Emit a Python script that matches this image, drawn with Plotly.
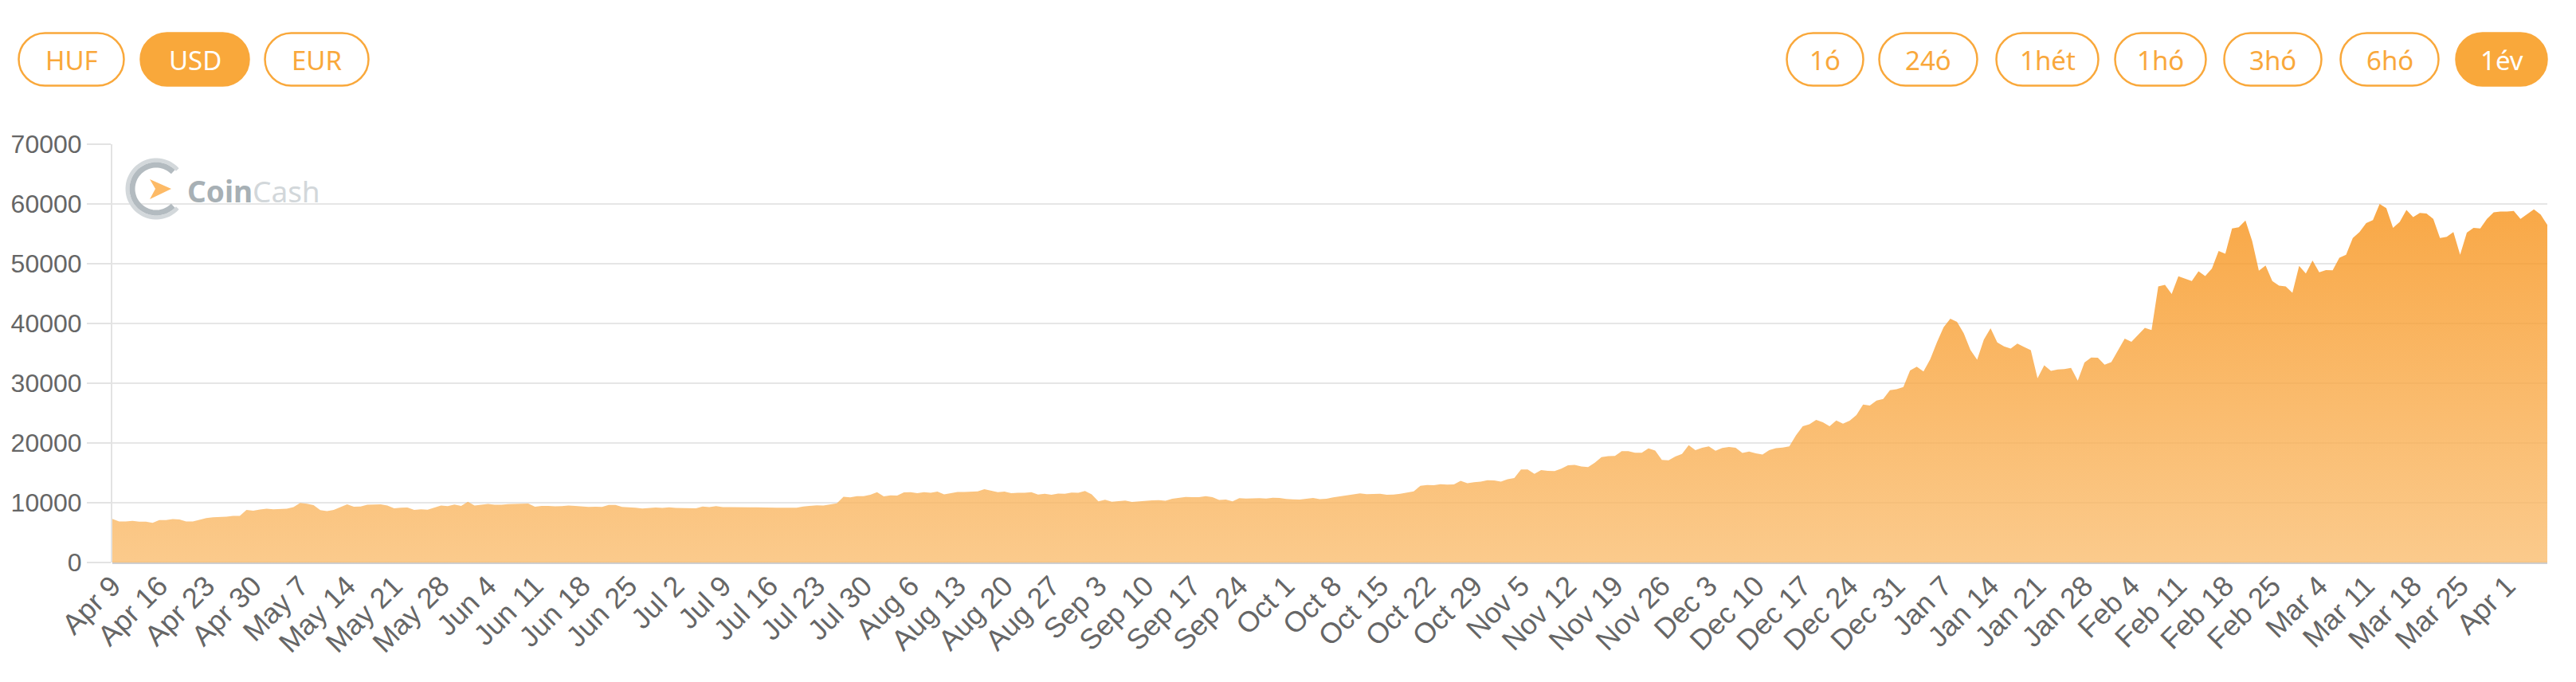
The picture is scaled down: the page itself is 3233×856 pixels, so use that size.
"""CoinCash BTC/USD one-year price chart (area with gradient fill)."""

import math

import pandas as pd
import plotly.graph_objects as go

# Daily BTC price in USD, 9 Apr 2020 - 7 Apr 2021, one list per month
APR_2020 = [7302, 6865, 6859, 6971, 6845, 6842, 6642, 7116, 7096, 7257, 7189,
            6881, 6880, 7117, 7429, 7551, 7569, 7679, 7795, 7807, 8801, 8658]
MAY_2020 = [8864, 8988, 8897, 8912, 9003, 9268, 9951, 9842, 9593, 8756, 8601,
            8804, 9269, 9733, 9328, 9377, 9670, 9727, 9729, 9523, 9081, 9182,
            9209, 8790, 8906, 8835, 9181, 9525, 9439, 9700, 9461]
JUN_2020 = [10167, 9529, 9656, 9800, 9665, 9653, 9758, 9771, 9795, 9870, 9321,
            9480, 9475, 9386, 9450, 9538, 9480, 9411, 9288, 9332, 9303, 9648,
            9629, 9313, 9264, 9162, 9045, 9143, 9190, 9137]
JUL_2020 = [9228, 9123, 9087, 9133, 9073, 9375, 9253, 9428, 9277, 9278, 9240,
            9276, 9243, 9243, 9192, 9132, 9151, 9159, 9185, 9164, 9374, 9526,
            9581, 9536, 9677, 9905, 10990, 10912, 11100, 11112, 11323]
AUG_2020 = [11759, 11053, 11246, 11205, 11747, 11779, 11601, 11754, 11675,
            11878, 11410, 11584, 11784, 11786, 11865, 11892, 12254, 11991,
            11758, 11878, 11592, 11681, 11665, 11774, 11366, 11488, 11324,
            11542, 11507, 11711, 11680]
SEP_2020 = [11970, 11415, 10245, 10512, 10169, 10281, 10370, 10131, 10242,
            10363, 10400, 10442, 10323, 10680, 10796, 10974, 10948, 10944,
            11094, 10938, 10462, 10538, 10246, 10760, 10692, 10750, 10775,
            10709, 10844, 10784]
OCT_2020 = [10619, 10575, 10549, 10669, 10793, 10604, 10668, 10915, 11064,
            11296, 11384, 11555, 11425, 11430, 11505, 11319, 11360, 11503,
            11751, 11916, 12823, 12965, 12931, 13108, 13031, 13075, 13655,
            13271, 13437, 13547, 13781]
NOV_2020 = [13737, 13550, 13950, 14133, 15579, 15565, 14833, 15479, 15332,
            15290, 15701, 16277, 16318, 16068, 15955, 16716, 17645, 17804,
            17817, 18621, 18642, 18370, 18364, 19107, 18732, 17151, 17108,
            17718, 18177, 19625]
DEC_2020 = [18802, 19201, 19446, 18699, 19155, 19345, 19191, 18321, 18553,
            18264, 18058, 18803, 19142, 19246, 19417, 21310, 22805, 23137,
            23869, 23477, 22803, 23783, 23241, 23735, 24664, 26437, 26272,
            27084, 27362, 28841, 29001]
JAN_2021 = [29374, 32127, 32782, 31971, 33992, 36824, 39371, 40797, 40254,
            38357, 35566, 33922, 37316, 39187, 36825, 36178, 35792, 36630,
            36069, 35547, 30825, 33006, 32067, 32289, 32366, 32569, 30432,
            33467, 34316, 34269, 33115]
FEB_2021 = [33537, 35510, 37473, 36927, 38144, 39266, 38903, 46196, 46481,
            44919, 47910, 47505, 47105, 48717, 47945, 49199, 52150, 51679,
            55888, 56099, 57250, 53800, 48825, 49705, 47093, 46339, 46188,
            45137]
MAR_2021 = [49631, 48378, 50538, 48561, 48927, 48912, 51000, 51500, 54300,
            55300, 56800, 57300, 60000, 59300, 56000, 57000, 59000, 57800,
            58500, 58400, 57500, 54300, 54500, 55300, 51500, 55200, 56000,
            55900, 57500, 58600, 58750]
APR_2021 = [58750, 58850, 57500, 58250, 59100, 58250, 56500]

START_DATE = "2020-04-09"

# Weekly x tick labels (every Thursday from the start date)
TICK_LABELS = [
    "Apr 9", "Apr 16", "Apr 23", "Apr 30", "May 7", "May 14", "May 21",
    "May 28", "Jun 4", "Jun 11", "Jun 18", "Jun 25", "Jul 2", "Jul 9",
    "Jul 16", "Jul 23", "Jul 30", "Aug 6", "Aug 13", "Aug 20", "Aug 27",
    "Sep 3", "Sep 10", "Sep 17", "Sep 24", "Oct 1", "Oct 8", "Oct 15",
    "Oct 22", "Oct 29", "Nov 5", "Nov 12", "Nov 19", "Nov 26", "Dec 3",
    "Dec 10", "Dec 17", "Dec 24", "Dec 31", "Jan 7", "Jan 14", "Jan 21",
    "Jan 28", "Feb 4", "Feb 11", "Feb 18", "Feb 25", "Mar 4", "Mar 11",
    "Mar 18", "Mar 25", "Apr 1",
]
Y_TICKS = [0, 10000, 20000, 30000, 40000, 50000, 60000, 70000]

CURRENCIES = ["HUF", "USD", "EUR"]
PERIODS = ["1ó", "24ó", "1hét", "1hó", "3hó", "6hó", "1év"]
ACTIVE = {"USD", "1év"}

ORANGE = "#F9A83B"

# Page geometry (px)
W, H = 3233, 856
PL, PR, PT, PB = 141, 3197, 181, 706


def _px(x):
    return (x - PL) / (PR - PL)


def _py(y):
    return (PB - y) / (PB - PT)


def _pill(w, h):
    """Pill-shaped path in pixel units centred on the anchor."""
    r = h / 2
    k = 0.5523 * r
    a, b = w / 2 - r, w / 2
    return (
        f"M {-a},{-r} L {a},{-r} "
        f"C {a + k},{-r} {b},{-k} {b},0 C {b},{k} {a + k},{r} {a},{r} "
        f"L {-a},{r} C {-a - k},{r} {-b},{k} {-b},0 "
        f"C {-b},{-k} {-a - k},{-r} {-a},{-r} Z"
    )


def _arc(radius, a0, a1, n=60):
    pts = []
    for i in range(n + 1):
        t = math.radians(a0 + (a1 - a0) * i / n)
        pts.append(f"{radius * math.cos(t):.2f},{radius * math.sin(t):.2f}")
    return "M " + " L ".join(pts)


prices = (APR_2020 + MAY_2020 + JUN_2020 + JUL_2020 + AUG_2020 + SEP_2020
          + OCT_2020 + NOV_2020 + DEC_2020 + JAN_2021 + FEB_2021 + MAR_2021
          + APR_2021)
dates = pd.date_range(START_DATE, periods=len(prices), freq="D")
tick_dates = pd.date_range(START_DATE, periods=len(TICK_LABELS), freq="7D")

fig = go.Figure()
fig.add_trace(go.Scatter(
    x=dates, y=prices, mode="lines", fill="tozeroy",
    line=dict(width=0, color="rgba(248,160,50,0.8)"),
    fillgradient=dict(
        type="vertical", start=0, stop=60000,
        colorscale=[[0, "rgba(250,189,111,0.8)"], [1, "rgba(247,146,24,0.8)"]],
    ),
    hoverinfo="x+y",
))

shapes = []
annotations = []

# currency / period buttons
buttons = [
    ("HUF", 22, 157), ("USD", 175, 314), ("EUR", 331, 464),
    ("1ó", 2241, 2340), ("24ó", 2357, 2483), ("1hét", 2504, 2635),
    ("1hó", 2653, 2770), ("3hó", 2790, 2915), ("6hó", 2936, 3062),
    ("1év", 3081, 3198),
]
for label, x0, x1 in buttons:
    on = label in ACTIVE
    cx = (x0 + x1) / 2
    shapes.append(dict(
        type="path", xref="paper", yref="paper",
        xsizemode="pixel", ysizemode="pixel",
        xanchor=_px(cx), yanchor=_py(74.5),
        path=_pill(x1 - x0 - 3, 66),
        line=dict(color=ORANGE, width=2.5),
        fillcolor=ORANGE if on else "white",
    ))
    annotations.append(dict(
        x=_px(cx), y=_py(75), xref="paper", yref="paper",
        text=label, showarrow=False, xanchor="center", yanchor="middle",
        font=dict(family="Noto Sans", size=33,
                  color="white" if on else ORANGE),
    ))

# CoinCash logo (ring, arrow, wordmark)
logo_x, logo_y = _px(196), _py(237)
shapes.append(dict(
    type="path", xref="paper", yref="paper",
    xsizemode="pixel", ysizemode="pixel", xanchor=logo_x, yanchor=logo_y,
    path=_arc(36, 42, 318), line=dict(color="#d3d8db", width=5),
))
shapes.append(dict(
    type="path", xref="paper", yref="paper",
    xsizemode="pixel", ysizemode="pixel", xanchor=logo_x, yanchor=logo_y,
    path=_arc(30, 45, 315), line=dict(color="#b3bbc0", width=7),
))
shapes.append(dict(
    type="path", xref="paper", yref="paper",
    xsizemode="pixel", ysizemode="pixel", xanchor=logo_x, yanchor=logo_y,
    path="M -8,12 L 19,0 L -8,-13 L -1,0 Z",
    line=dict(width=0), fillcolor="#FDBA66",
))
annotations.append(dict(
    x=_px(233), y=_py(239), xref="paper", yref="paper", showarrow=False,
    xanchor="left", yanchor="middle",
    text="<b>Coin</b><span style='color:#d2d7da'>Cash</span>",
    font=dict(family="Noto Sans", size=37, color="#a7b0b5"),
))

fig.update_layout(
    width=W, height=H,
    margin=dict(l=PL, r=W - PR, t=PT, b=H - PB),
    paper_bgcolor="white", plot_bgcolor="white",
    showlegend=False,
    shapes=shapes, annotations=annotations,
)
fig.update_xaxes(
    type="date", range=[dates[0], dates[-1]],
    tickmode="array", tickvals=tick_dates, ticktext=TICK_LABELS,
    tickangle=-45, showgrid=False, ticks="", automargin=False,
    tickfont=dict(family="Liberation Sans", size=36, color="#666666"),
    showline=False, zeroline=False,
)
fig.update_yaxes(
    range=[0, 70000], tickmode="array", tickvals=Y_TICKS, tickformat="d",
    showgrid=True, gridcolor="#e6e6e6", gridwidth=2,
    zeroline=True, zerolinecolor="#cfcfcf", zerolinewidth=3,
    showline=True, linecolor="#e3e3e3", linewidth=2,
    ticks="outside", ticklen=30, tickwidth=2, tickcolor="#e3e3e3",
    tickfont=dict(family="Liberation Sans", size=32, color="#666666"),
    automargin=False,
)

fig.write_html("out.html", config={"displayModeBar": False},
               post_script="document.body.style.margin='0';")
